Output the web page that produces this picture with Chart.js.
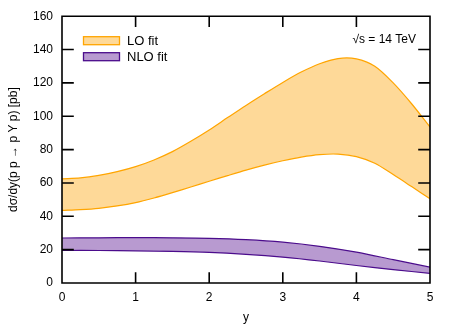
<!DOCTYPE html>
<html>
<head>
<meta charset="utf-8">
<script src="https://cdn.jsdelivr.net/npm/chart.js@4/dist/chart.umd.min.js"></script>
<style>
  html, body { margin: 0; padding: 0; background: #fff; }
</style>
</head>
<body>
<canvas id="c" width="454" height="324"></canvas>
<script>
// rapidity grid and band edges
var yLO = [0, 0.25, 0.5, 0.75, 1, 1.25, 1.5, 1.75, 2, 2.25, 2.5, 2.75, 3, 3.25, 3.5, 3.75, 4, 4.25, 4.5, 4.75, 5];
var loUpper = [62.5, 63, 64.5, 66.8, 69.8, 73.8, 78.8, 85, 91.8, 99.2, 106.5, 113.5, 120.3, 126.5, 131.5, 134.6, 134.4, 130, 120, 107.5, 93.5];
var loLower = [43.5, 44, 44.8, 46.2, 48.2, 51, 54.2, 57.6, 61, 64.4, 67.7, 70.7, 73.3, 75.5, 77, 77.3, 75.8, 71.8, 65, 57.8, 50.5];

var yNLO = [0, 0.5, 1, 1.5, 2, 2.5, 3, 3.5, 4, 4.5, 5];
var nloUpper = [27, 27.1, 27.2, 27.1, 26.8, 26, 24.5, 22, 18.5, 14, 9.5];
var nloLower = [19.5, 19.5, 19.3, 19, 18.4, 17.2, 15.5, 13.2, 10.5, 8, 5.8];

var xTicks = [0, 1, 2, 3, 4, 5];
var yTicks = [0, 20, 40, 60, 80, 100, 120, 140, 160];

var FONT = "'Liberation Sans', Arial, sans-serif";
var loLine = '#ffa500', loFill = '#fed998';
var nloLine = '#4b0c8c', nloFill = '#b89ad0';

function pts(xs, ys) {
  return xs.map(function (x, i) { return { x: x, y: ys[i] }; });
}

// frame, inward ticks on all four sides, legend and energy label (gnuplot look)
var decor = {
  id: 'decor',
  afterDraw: function (chart) {
    var ctx = chart.ctx, a = chart.chartArea;
    var sx = chart.scales.x, sy = chart.scales.y;
    var L = a.left, R = a.right, T = a.top, B = a.bottom;
    ctx.save();
    ctx.strokeStyle = '#000';
    ctx.lineWidth = 1.6;
    ctx.lineCap = 'square';
    ctx.beginPath();
    ctx.rect(L, T, R - L, B - T);
    xTicks.forEach(function (v) {
      var px = sx.getPixelForValue(v);
      ctx.moveTo(px, B); ctx.lineTo(px, B - 10);
      ctx.moveTo(px, T); ctx.lineTo(px, T + 10);
    });
    yTicks.forEach(function (v) {
      var py = sy.getPixelForValue(v);
      ctx.moveTo(L, py); ctx.lineTo(L + 11, py);
      ctx.moveTo(R, py); ctx.lineTo(R - 11, py);
    });
    ctx.stroke();

    // legend
    var items = [['LO fit', loFill, loLine], ['NLO fit', nloFill, nloLine]];
    ctx.font = '13px ' + FONT;
    ctx.textBaseline = 'middle';
    ctx.textAlign = 'left';
    items.forEach(function (it, i) {
      var bx = L + 21.5, by = T + 20.5 + i * 16;
      ctx.fillStyle = it[1];
      ctx.fillRect(bx, by, 36, 8);
      ctx.strokeStyle = it[2];
      ctx.lineWidth = 1.3;
      ctx.strokeRect(bx, by, 36, 8);
      ctx.fillStyle = '#000';
      ctx.fillText(it[0], L + 65, by + 4.5);
    });

    // sqrt(s) label
    ctx.font = '12px ' + FONT;
    ctx.textAlign = 'right';
    ctx.fillText('\u221As = 14 TeV', R - 14, T + 23);
    ctx.restore();
  }
};

new Chart(document.getElementById('c'), {
  type: 'line',
  data: {
    datasets: [
      { data: pts(yLO, loLower), borderColor: loLine, borderWidth: 1.2, pointRadius: 0, fill: false, tension: 0.3 },
      { data: pts(yLO, loUpper), borderColor: loLine, borderWidth: 1.2, pointRadius: 0, fill: '-1', backgroundColor: loFill, tension: 0.3 },
      { data: pts(yNLO, nloLower), borderColor: nloLine, borderWidth: 1.2, pointRadius: 0, fill: false, tension: 0.3 },
      { data: pts(yNLO, nloUpper), borderColor: nloLine, borderWidth: 1.2, pointRadius: 0, fill: '-1', backgroundColor: nloFill, tension: 0.3 }
    ]
  },
  options: {
    responsive: false,
    devicePixelRatio: 1,
    animation: false,
    layout: { padding: { top: 16, right: 24, left: 4, bottom: 0 } },
    plugins: { legend: { display: false }, tooltip: { enabled: false } },
    scales: {
      x: {
        type: 'linear', min: 0, max: 5,
        grid: { display: false, drawTicks: false },
        border: { display: false },
        afterBuildTicks: function (s) { s.ticks = xTicks.map(function (v) { return { value: v }; }); },
        afterFit: function (s) { s.height = 41; },
        ticks: { color: '#000', font: { family: FONT, size: 12 }, padding: 7, maxRotation: 0 },
        title: { display: true, text: 'y', color: '#000', font: { family: FONT, size: 12 }, padding: { top: 0, bottom: -1 } }
      },
      y: {
        type: 'linear', min: 0, max: 160,
        grid: { display: false, drawTicks: false },
        border: { display: false },
        afterBuildTicks: function (s) { s.ticks = yTicks.map(function (v) { return { value: v }; }); },
        afterFit: function (s) { s.width = 58; },
        ticks: { color: '#000', font: { family: FONT, size: 12 }, padding: 9 },
        title: { display: true, text: 'd\u03C3/dy(p p \u2192 p \u03A5 p) [pb]', color: '#000', font: { family: FONT, size: 12 }, padding: { top: 2, bottom: 0 } }
      }
    }
  },
  plugins: [decor]
});
</script>
</body>
</html>
